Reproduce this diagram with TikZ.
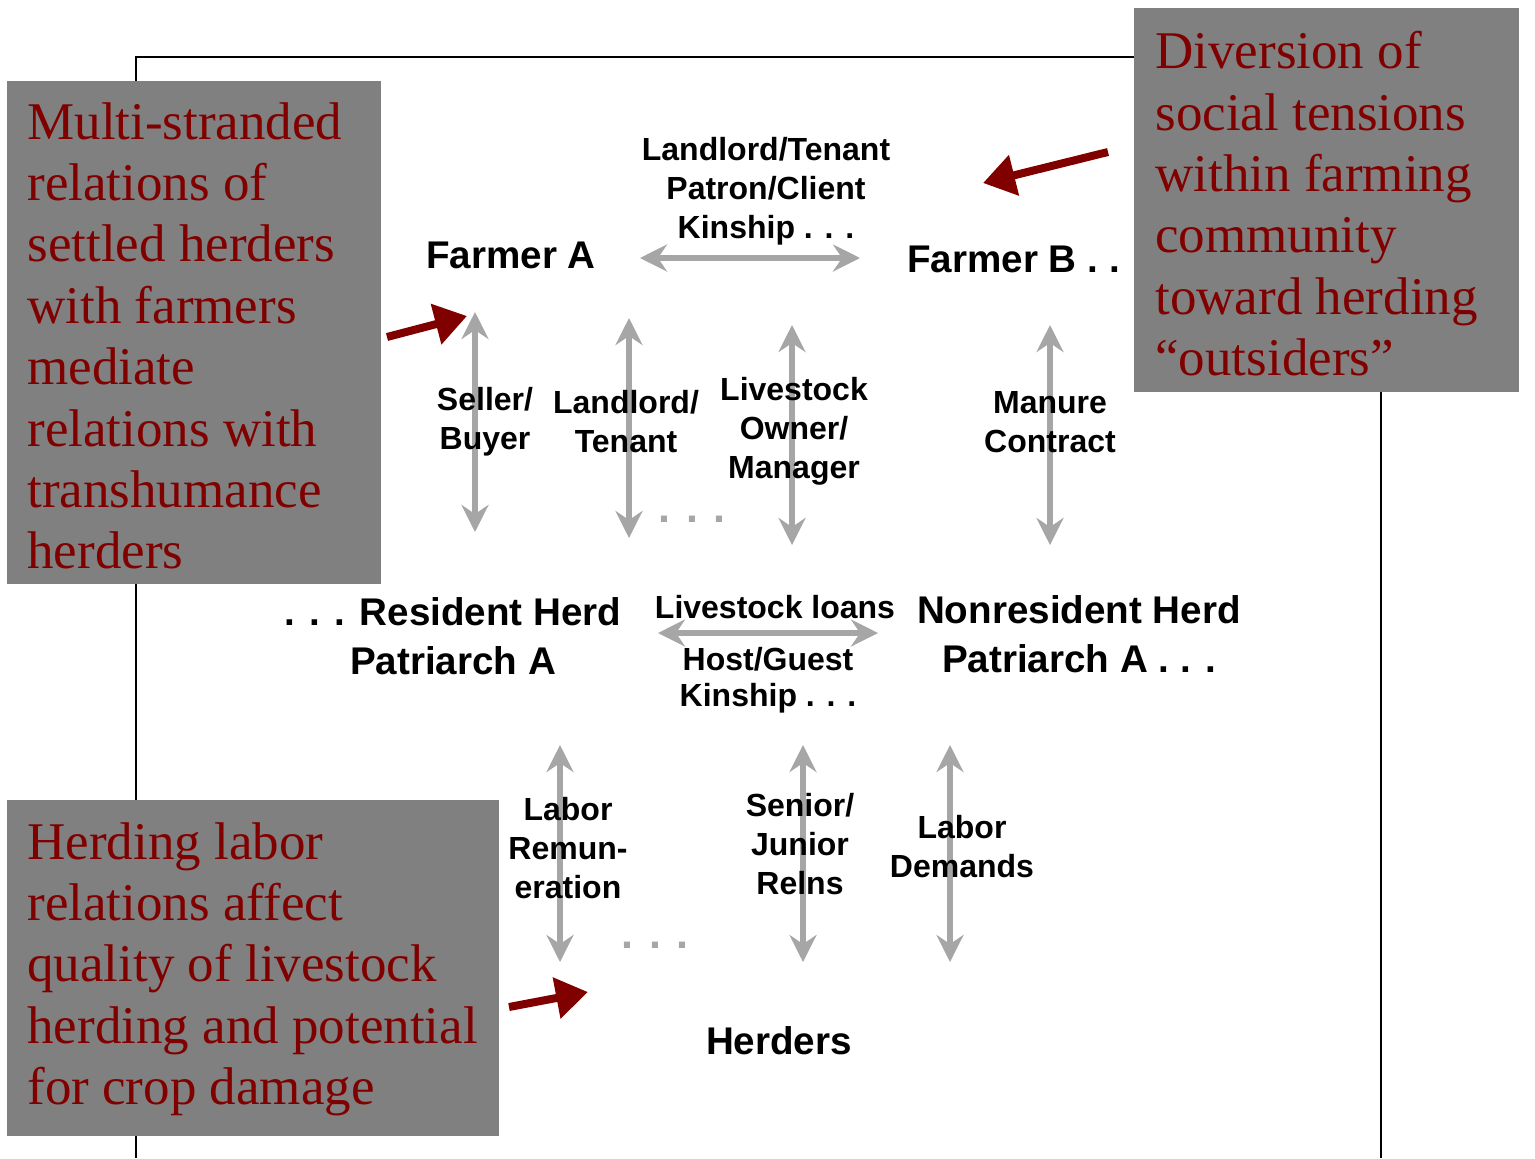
\documentclass[tikz,border=0pt]{standalone}
\usepackage{fontspec}
\setmainfont{Liberation Serif}
\setsansfont{Liberation Sans}
\usetikzlibrary{arrows.meta}
\definecolor{arrgray}{RGB}{166,166,166}
\definecolor{boxgray}{RGB}{128,128,128}
\definecolor{maroonred}{RGB}{128,0,0}
\begin{document}
\begin{tikzpicture}[x=0.5pt,y=-0.5pt,
  mainlbl/.style={font=\sffamily\bfseries\fontsize{19.3}{24.5}\selectfont, align=center, inner sep=0pt},
  rellbl/.style={font=\sffamily\bfseries\fontsize{16}{19.6}\selectfont, align=center, inner sep=0pt},
  dotlbl/.style={font=\sffamily\bfseries\fontsize{21.5}{24}\selectfont, text=arrgray, inner sep=0pt},
  garrow/.style={draw=arrgray, line width=3pt, {Stealth[length=13.5pt,width=13.5pt,inset=4.5pt]}-{Stealth[length=13.5pt,width=13.5pt,inset=4.5pt]}},
  rarrow/.style={draw=maroonred, line width=4pt, -{Triangle[length=16pt,width=20pt]}},
  cbox/.style={fill=boxgray, draw=none, inner sep=0pt, anchor=north west},
  ctext/.style={font=\rmfamily\fontsize{26.5}{30.7}\selectfont, text=maroonred, align=left, inner sep=0pt, anchor=north west},
  framestyle/.style={draw=black, line width=1.3pt}
]
\useasboundingbox (0,0) rectangle (1535,1158);

% frame
\draw[framestyle] (136,1158) -- (136,57) -- (1381,57) -- (1381,1158);

% arrow end points
\coordinate (hA1) at (640,258); \coordinate (hA2) at (860,258);
\coordinate (hB1) at (658,633); \coordinate (hB2) at (878,633);
\coordinate (v11) at (475,312); \coordinate (v12) at (475,532);
\coordinate (v21) at (629,318); \coordinate (v22) at (629,538);
\coordinate (v31) at (792,325); \coordinate (v32) at (792,545);
\coordinate (v41) at (1050,325); \coordinate (v42) at (1050,545);
\coordinate (w11) at (560,745); \coordinate (w12) at (560,962);
\coordinate (w21) at (803,745); \coordinate (w22) at (803,962);
\coordinate (w31) at (950,745); \coordinate (w32) at (950,962);

% gray relation arrows (behind the text)
\draw[garrow] (hA1) -- (hA2);
\draw[garrow] (hB1) -- (hB2);
\draw[garrow] (v11) -- (v12);
\draw[garrow] (v21) -- (v22);
\draw[garrow] (v31) -- (v32);
\draw[garrow] (v41) -- (v42);
\draw[garrow] (w11) -- (w12);
\draw[garrow] (w21) -- (w22);
\draw[garrow] (w31) -- (w32);

% main nodes
\node[mainlbl] (FA) at (511,255) {Farmer A};
\node[mainlbl, anchor=west] (FB) at (907,259) {Farmer B . . .};
\node[mainlbl] (RH) at (453,636.5) {. . . Resident Herd\\Patriarch A};
\node[mainlbl] (NR) at (1079,634.5) {Nonresident Herd\\Patriarch A . . .};
\node[mainlbl] (HE) at (779,1041) {Herders};

% relation labels
\node[rellbl] (LT) at (766,191) {Landlord/Tenant\\Patron/Client\\Kinship . . .};
\node[rellbl] (SB) at (485,421.5) {Seller/\\Buyer};
\node[rellbl] (LL) at (626,421.5) {Landlord/\\Tenant};
\node[rellbl] (LO) at (794,431) {Livestock\\Owner/\\Manager};
\node[rellbl] (MC) at (1050,422.5) {Manure\\Contract};
\node[rellbl] (LN) at (775,607) {Livestock loans};
\node[rellbl, font=\sffamily\bfseries\fontsize{16}{18}\selectfont] (HG) at (768,680) {Host/Guest\\Kinship . . .};
\node[rellbl] (LR) at (568,848) {Labor\\Remun-\\eration};
\node[rellbl] (SJ) at (800,844) {Senior/\\Junior\\Relns};
\node[rellbl] (LD) at (962,846.5) {Labor\\Demands};
\node[dotlbl] (D1) at (692,519) {. . .};
\node[dotlbl] (D2) at (655,945) {. . .};

% callout boxes
\node[cbox, minimum width=187pt, minimum height=251.5pt] (BX1) at (7,81) {};
\node[ctext] (T1) at (27,102) {Multi-stranded\\relations of\\settled herders\\with farmers\\mediate\\relations with\\transhumance\\herders};

\node[cbox, minimum width=192.5pt, minimum height=192pt] (BX2) at (1134,8) {};
\node[ctext] (T2) at (1155,31) {Diversion of\\social tensions\\within farming\\community\\toward herding\\“outsiders”};

\node[cbox, minimum width=246pt, minimum height=168pt] (BX3) at (7,800) {};
\node[ctext] (T3) at (27,822) {Herding labor\\relations affect\\quality of livestock\\herding and potential\\for crop damage};

% red pointer arrows
\coordinate (r1s) at (387,337); \coordinate (r1e) at (467,316);
\coordinate (r2s) at (1108,152); \coordinate (r2e) at (983,183);
\coordinate (r3s) at (509,1007); \coordinate (r3e) at (588,992);
\draw[rarrow] (r1s) -- (r1e);
\draw[rarrow] (r2s) -- (r2e);
\draw[rarrow] (r3s) -- (r3e);
\end{tikzpicture}
\end{document}
